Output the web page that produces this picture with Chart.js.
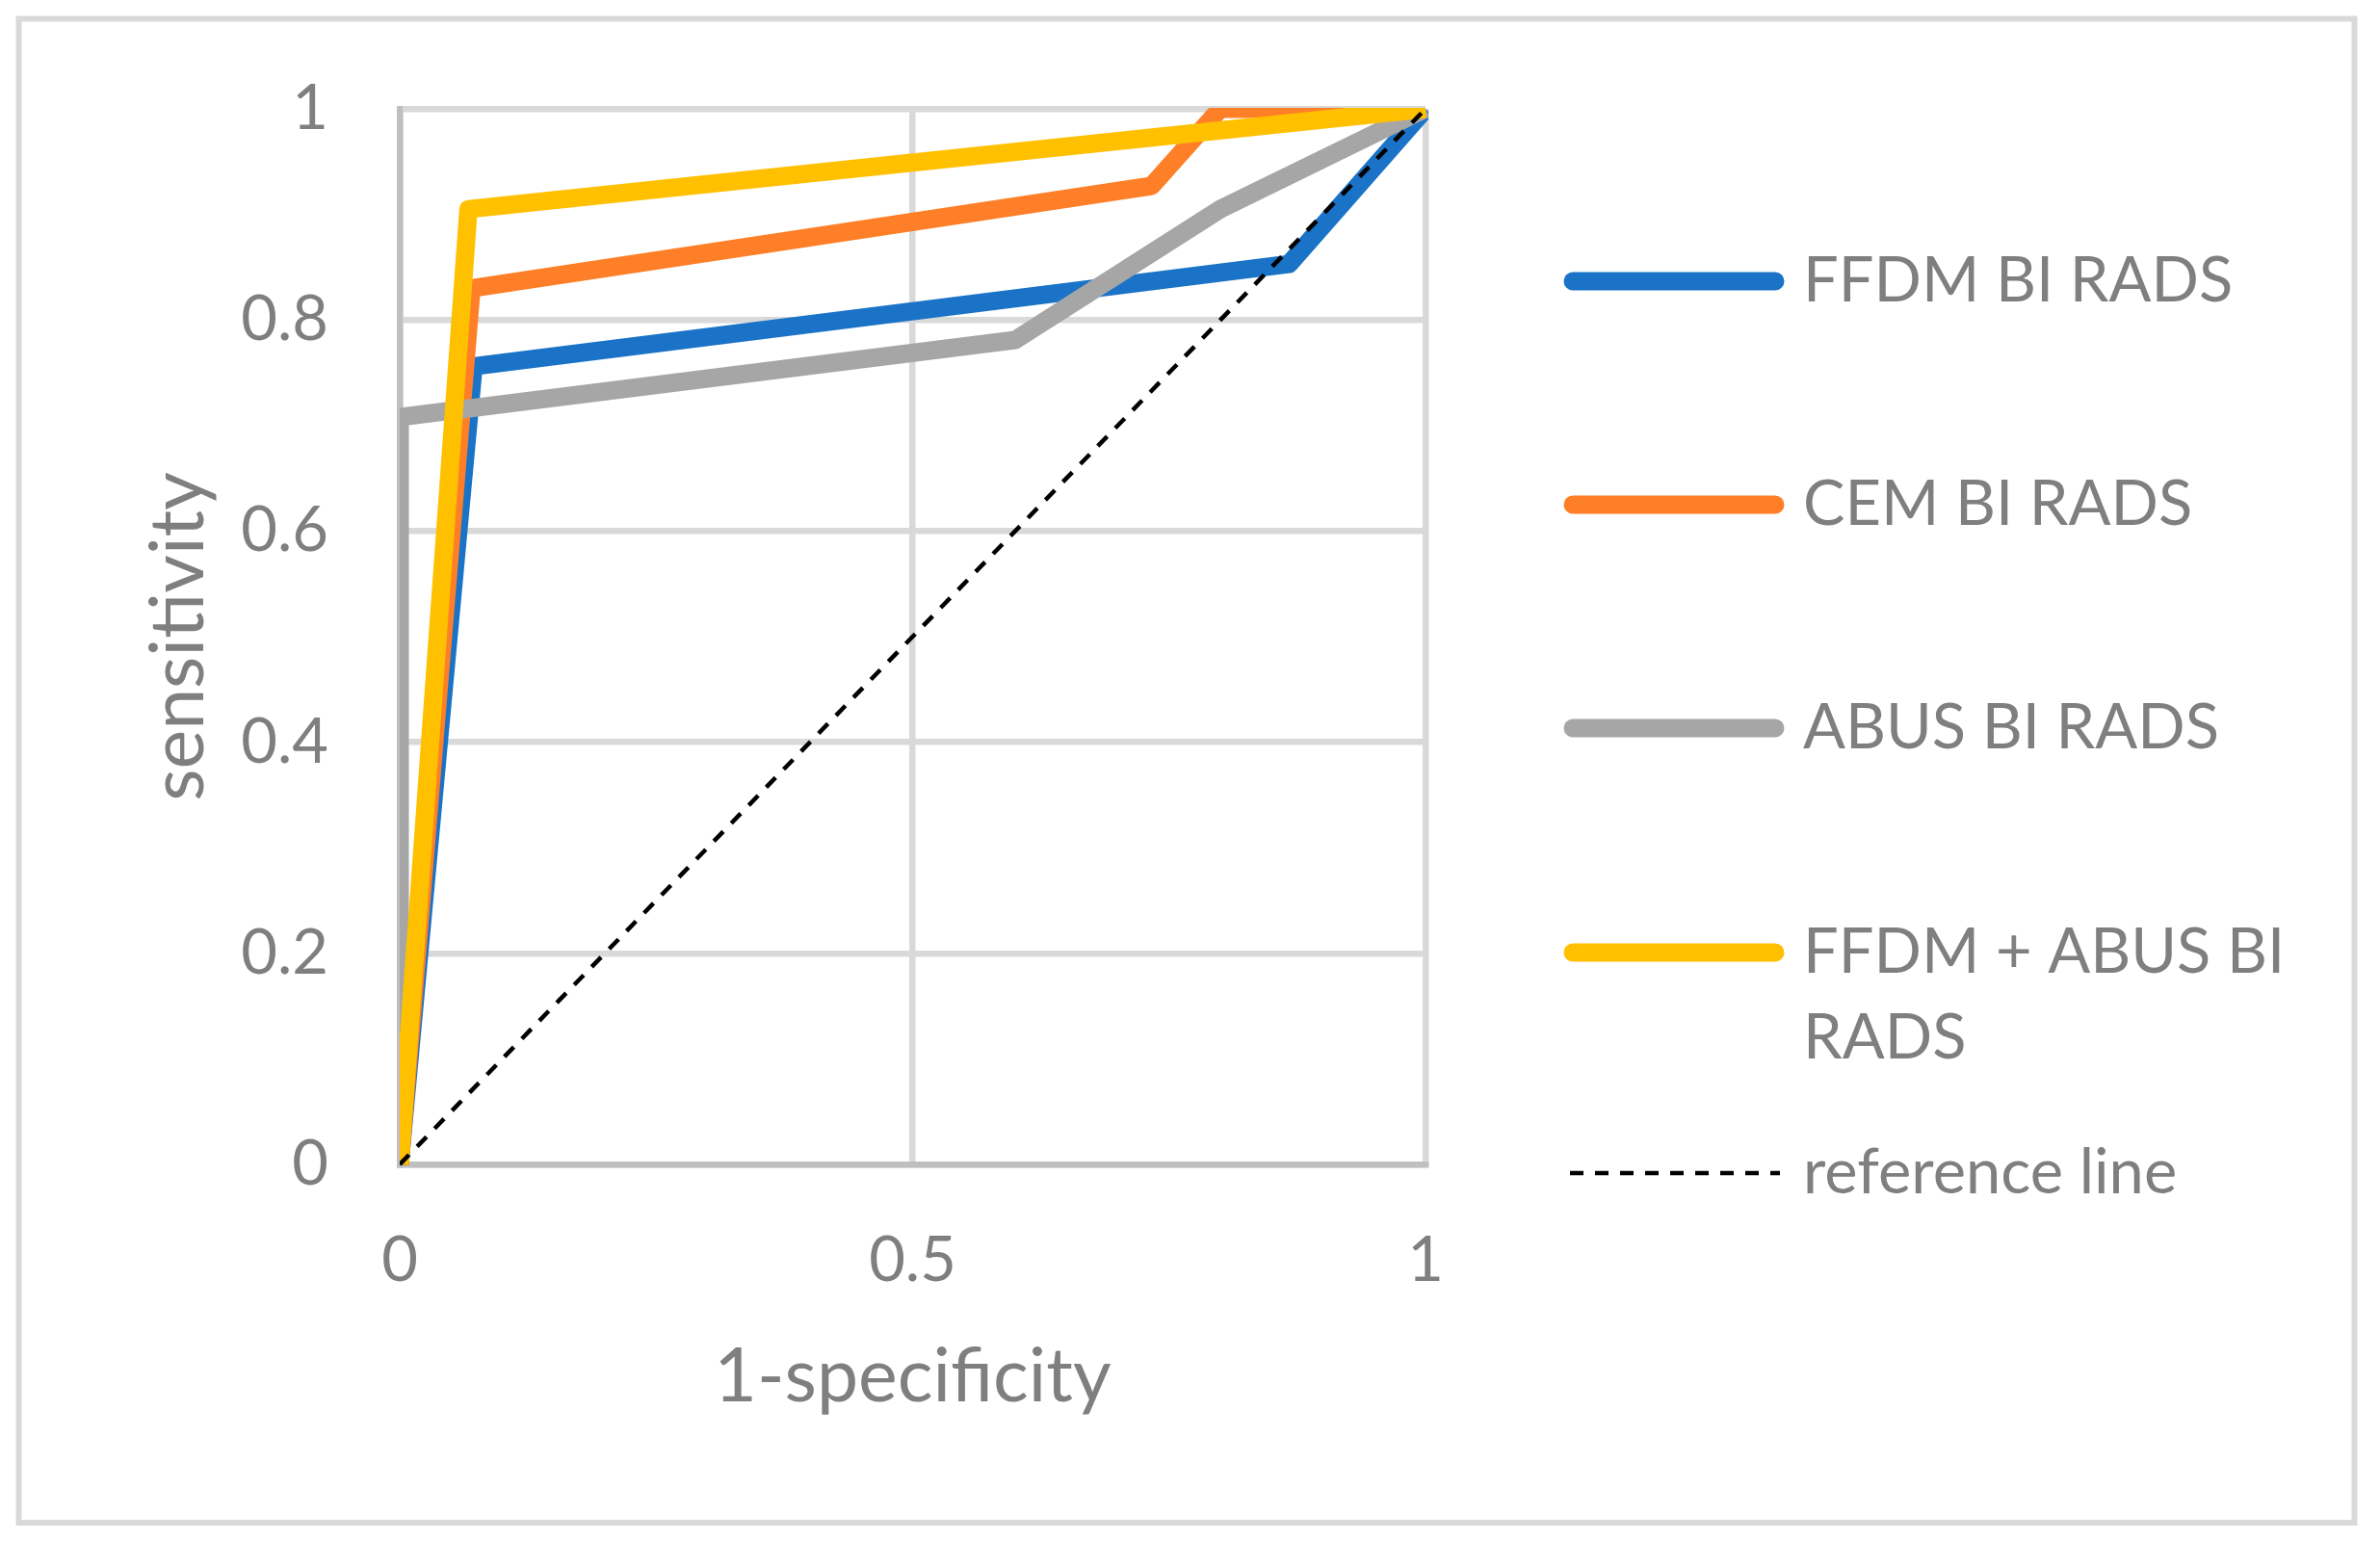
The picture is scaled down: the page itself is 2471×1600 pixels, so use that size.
<!DOCTYPE html>
<html>
<head>
<meta charset="utf-8">
<title>ROC curves BI RADS</title>
<script src="https://cdn.jsdelivr.net/npm/chart.js@4.4.1/dist/chart.umd.min.js"></script>
<style>
  html, body { margin: 0; padding: 0; background: #ffffff; }
  canvas { display: block; }
</style>
</head>
<body>
<canvas id="roc" width="2471" height="1600"></canvas>
<script>
var seriesNames = ["FFDM BI RADS", "CEM BI RADS", "ABUS BI RADS", "FFDM + ABUS BI RADS", "reference line"];
var seriesColors = ["#1a73c7", "#fe7f27", "#a6a6a6", "#ffc000", "#000000"];

// 1-specificity (x) / sensitivity (y)
var ffdmX = [0, 0.072, 0.867, 1];
var ffdmY = [0, 0.756, 0.853, 1];
var cemX = [0, 0.07, 0.733, 0.8, 1];
var cemY = [0, 0.83, 0.927, 1, 1];
var abusX = [0, 0, 0.6, 0.8, 1];
var abusY = [0, 0.708, 0.781, 0.905, 1];
var comboX = [0, 0.067, 1];
var comboY = [0, 0.905, 1];
var refX = [0, 1];
var refY = [0, 1];

var xTickLabels = ["0", "0.5", "1"];
var yTickLabels = ["0", "0.2", "0.4", "0.6", "0.8", "1"];

var textColor = "#7f7f7f";
var fontFamily = "Lato";

function toPoints(xs, ys) {
  return xs.map(function (x, i) {
    return { x: x, y: ys[i] };
  });
}

function makeDataset(i, xs, ys, order) {
  return {
    label: seriesNames[i],
    data: toPoints(xs, ys),
    borderColor: seriesColors[i],
    backgroundColor: seriesColors[i],
    borderWidth: 19,
    showLine: true,
    fill: false,
    tension: 0,
    pointRadius: 0,
    pointHoverRadius: 0,
    borderJoinStyle: "round",
    borderCapStyle: "butt",
    clip: { left: 0, top: 1, right: 3, bottom: 10 },
    order: order,
  };
}

var datasets = [
  makeDataset(0, ffdmX, ffdmY, 5),
  makeDataset(1, cemX, cemY, 4),
  makeDataset(2, abusX, abusY, 3),
  makeDataset(3, comboX, comboY, 2),
  makeDataset(4, refX, refY, 1),
];
datasets[4].borderWidth = 4.5;
datasets[4].borderDash = [14, 12];
datasets[4].borderJoinStyle = "miter";

// white page and light frame
var frame = {
  id: "frame",
  beforeDraw: function (chart) {
    var ctx = chart.ctx;
    ctx.save();
    ctx.fillStyle = "#ffffff";
    ctx.fillRect(0, 0, chart.width, chart.height);
    ctx.strokeStyle = "#d9d9d9";
    ctx.lineWidth = 6;
    ctx.strokeRect(19.5, 19.5, 2425, 1561.5);
    ctx.restore();
  },
};

// legend on the right, with wrapping like the original
var sideLegend = {
  id: "sideLegend",
  afterDraw: function (chart) {
    var ctx = chart.ctx;
    var rows = [292, 524, 756, 989, 1218];
    var textX = 1872;
    var maxW = 530;
    var lineH = 89;
    ctx.save();
    ctx.font = "65px " + fontFamily;
    ctx.textBaseline = "middle";
    chart.data.datasets.forEach(function (ds, i) {
      var y = rows[i];
      ctx.save();
      ctx.beginPath();
      ctx.strokeStyle = ds.borderColor;
      ctx.lineWidth = ds.borderWidth;
      if (ds.borderDash) {
        ctx.setLineDash(ds.borderDash);
        ctx.lineCap = "butt";
        ctx.moveTo(1630, y);
        ctx.lineTo(1848, y);
      } else {
        ctx.lineCap = "round";
        ctx.moveTo(1633, y);
        ctx.lineTo(1843, y);
      }
      ctx.stroke();
      ctx.restore();

      var words = ds.label.split(" ");
      var lines = [];
      var cur = "";
      words.forEach(function (w) {
        var test = cur ? cur + " " + w : w;
        if (ctx.measureText(test).width > maxW && cur) {
          lines.push(cur);
          cur = w;
        } else {
          cur = test;
        }
      });
      lines.push(cur);
      ctx.fillStyle = textColor;
      lines.forEach(function (l, k) {
        ctx.fillText(l, textX, y + k * lineH);
      });
    });
    ctx.restore();
  },
};

var config = {
  type: "scatter",
  data: { datasets: datasets },
  options: {
    responsive: false,
    devicePixelRatio: 1,
    animation: false,
    layout: { padding: { top: 111, right: 991, bottom: 0, left: 0 } },
    plugins: {
      legend: { display: false },
      tooltip: { enabled: false },
    },
    scales: {
      x: {
        type: "linear",
        min: 0,
        max: 1,
        afterFit: function (scale) {
          scale.height = 391;
        },
        ticks: {
          stepSize: 0.5,
          padding: 61,
          color: textColor,
          font: { family: fontFamily, size: 65 },
          callback: function (v, i) {
            return xTickLabels[i];
          },
        },
        grid: { color: "#d9d9d9", lineWidth: 6.5, drawTicks: false },
        border: { color: "#bfbfbf", width: 6.5 },
        title: {
          display: true,
          text: "1-specificity",
          color: textColor,
          font: { family: fontFamily, size: 77 },
          padding: { top: 0, bottom: 124 },
        },
      },
      y: {
        type: "linear",
        min: 0,
        max: 1,
        afterFit: function (scale) {
          scale.width = 415;
        },
        ticks: {
          stepSize: 0.2,
          padding: 74,
          color: textColor,
          font: { family: fontFamily, size: 65 },
          callback: function (v, i) {
            return yTickLabels[i];
          },
        },
        grid: { color: "#d9d9d9", lineWidth: 6.5, drawTicks: false },
        border: { color: "#bfbfbf", width: 6.5 },
        title: {
          display: true,
          text: "sensitivity",
          color: textColor,
          font: { family: fontFamily, size: 77 },
          padding: { top: 140, bottom: 0 },
        },
      },
    },
  },
  plugins: [frame, sideLegend],
};

var ctx = document.getElementById("roc").getContext("2d");
var chart = new Chart(ctx, config);
</script>
</body>
</html>
